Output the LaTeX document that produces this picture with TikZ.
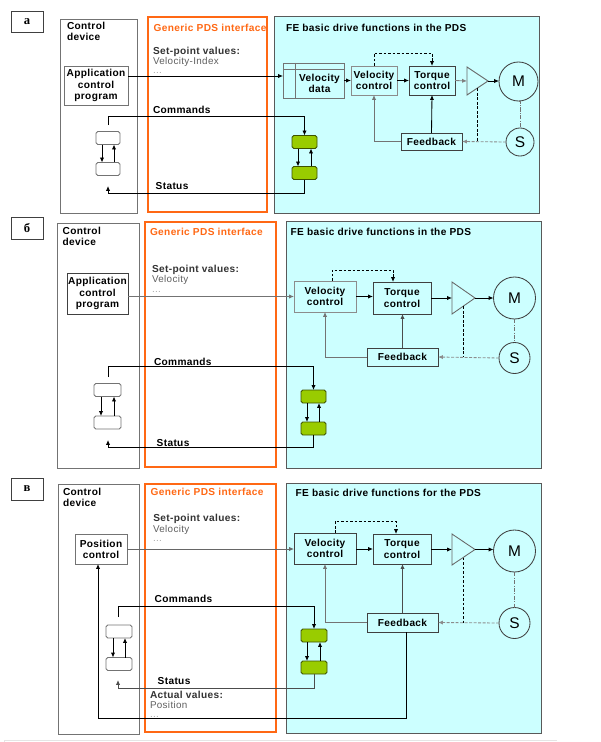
\documentclass[tikz,border=0pt]{standalone}
\usepackage{fontspec}
\setmainfont{Liberation Sans}[LetterSpace=3.5]
\newfontfamily\lblfont{Liberation Serif}
\usetikzlibrary{arrows.meta,calc}

\definecolor{pdsorange}{RGB}{255,104,20}
\definecolor{fecyan}{RGB}{204,255,255}
\definecolor{cmdgreen}{RGB}{153,204,0}
\definecolor{txtgray}{RGB}{95,95,95}

\tikzset{
  every node/.style={inner sep=0pt, outer sep=0pt},
  sz/.style 2 args={minimum width=#1*0.7113pt, minimum height=#2*0.7113pt},
  dia/.style={minimum size=#1*0.7113pt},
  btxt/.style={font=\fontsize{7.2}{8}\selectfont\bfseries},
  gtxt/.style={font=\fontsize{7}{8}\selectfont, text=txtgray},
  numbox/.style={draw=black!75, line width=0.7pt, font=\lblfont\bfseries\fontsize{9}{10}\selectfont},
  block/.style={draw=black!75, line width=0.6pt, btxt, align=center},
  smallbox/.style={draw=black!55, fill=white, rounded corners=1.2pt, line width=0.6pt, sz={#1}{13}},
  greenbox/.style={draw=black!60!cmdgreen, fill=cmdgreen, rounded corners=1.2pt, line width=0.6pt, sz={#1}{13}},
  motor/.style={circle, draw=black!75, line width=0.6pt, font=\fontsize{11}{12}\selectfont},
  amp/.style={draw=black!60, line width=0.6pt},
  cdev/.style={draw=black!55, line width=0.6pt},
  pds/.style={draw=pdsorange, line width=2pt},
  fe/.style={draw=black!65, fill=fecyan, line width=0.6pt},
  arr/.style={-{Latex[length=3.5pt,width=3pt]}, line width=0.6pt},
  dsh/.style={dash pattern=on 2pt off 1.2pt, line width=0.65pt},
  dshdot/.style={black!55, line width=0.6pt, dash pattern=on 3pt off 1pt on 0.6pt off 1pt}
}

\begin{document}
\begin{tikzpicture}[x=0.025cm, y=-0.025cm]
\useasboundingbox (0,0) rectangle (600,742);
\draw[black!10, line width=0.6pt] (4,742) -- (4,740.5) -- (557,740.5);

% panel a
\draw[cdev] (60,19) rectangle (137,213);
\draw[pds] (148,17) rectangle (267,212);
\draw[fe] (274,16) rectangle (539,213);
\node[numbox, sz={32}{21}] (lblA) at (27,21.5) {а};
\node[btxt, anchor=north west, align=left] (cdA) at (67,22.3) {Control\\device};
\node[btxt, anchor=north west, text=pdsorange] (ifA) at (153.7,24) {Generic PDS interface};
\node[btxt, anchor=north west, text=black!80] (spA) at (153,46.7) {Set-point values:};
\node[gtxt, anchor=north west] (spvA) at (153,57) {Velocity-Index};
\node[gtxt, anchor=base west, text=black!35] (spdA) at (153,73) {...};
\node[btxt, anchor=north west] (feA) at (286,24) {FE basic drive functions in the PDS};
\node[btxt, anchor=north west] (cmA) at (153,106) {Commands};
\node[btxt, anchor=north west] (stA) at (155.7,182) {Status};

\node[block, sz={64}{39}, draw=black!55] (appA) at (96,85.5) {Application\\control\\program};
\node[block, sz={61}{35}, draw=black!55] (vdA) at (313.5,80.5) {};
\draw[black!55, line width=0.6pt] ($(vdA.north west)+(0,6)$) -- ($(vdA.north east)+(0,6)$);
\draw[black!55, line width=0.6pt] ($(vdA.north west)+(12,0)$) -- ($(vdA.south west)+(12,0)$);
\node[btxt, align=center] (vdtA) at (319.5,83.5) {Velocity\\data};
\node[block, sz={46}{29}, draw=black!45] (vcA) at (374,80.5) {Velocity\\control};
\node[block, sz={46}{29}] (tcA) at (432,80.5) {Torque\\control};
\draw[amp] (467,67) -- (488,81) -- (467,95) -- cycle;
\coordinate (ampAin) at (467,81);
\coordinate (ampAout) at (488,81);
\coordinate (ampAdn) at (477,88.3);
\node[motor, dia=39] (mA) at (518.5,81.5) {M};
\node[motor, dia=28] (sA) at (520,142) {S};
\node[block, sz={61}{17}] (fbA) at (431.5,141.5) {Feedback};
\node[smallbox=24] (sbA1) at (108,138) {};
\node[smallbox=24] (sbA2) at (108,169) {};
\node[greenbox=25] (gbA1) at (304.5,142) {};
\node[greenbox=25] (gbA2) at (304.5,173) {};
\coordinate (cmdA) at (108,125);
\coordinate (stpA) at (108,186);

\draw[arr] (appA.east |- 0,76) -- (vdA.west |- 0,76);
\draw[arr] (vdA.east) -- (vcA.west);
\draw[arr] (vcA.east) -- (tcA.west);
\draw[arr, black!50] (tcA.east) -- (ampAin);
\draw[arr] (ampAout) -- (mA.west |- ampAout);
\draw[dsh, arr] (vcA.north) -- ++(0,-13) -| (tcA.north);
\draw[arr, black!55] (fbA.west) -| (vcA.south);
\draw[arr] (fbA.north) -- (tcA.south);
\draw[dshdot] (mA.south) -- (mA.south -| sA.north) -- (sA.north);
\draw[dsh, arr, black!45] (sA.west) -- (fbA.east);
\draw[dsh] (ampAdn) -- (ampAdn |- fbA.east);
\draw[arr] ($(sbA1.south)+(-6,0)$) -- ($(sbA2.north)+(-6,0)$);
\draw[arr] ($(sbA2.north)+(6,0)$) -- ($(sbA1.south)+(6,0)$);
\draw[arr] ($(gbA1.south)+(-6.5,0)$) -- ($(gbA2.north)+(-6.5,0)$);
\draw[arr] ($(gbA2.north)+(6.5,0)$) -- ($(gbA1.south)+(6.5,0)$);
\draw[arr] (cmdA) -- ++(0,-9) -| (gbA1.north);
\draw[arr] (gbA2.south) -- ++(0,14) -| (stpA);

% panel b
\draw[cdev] (57,223) rectangle (139,468);
\draw[pds] (145,222) rectangle (276,467);
\draw[fe] (286,221) rectangle (541,468);
\node[numbox, sz={32}{22}] (lblB) at (27,228) {б};
\node[btxt, anchor=north west, align=left] (cdB) at (62.7,227.3) {Control\\device};
\node[btxt, anchor=north west, text=pdsorange] (ifB) at (150,228.3) {Generic PDS interface};
\node[btxt, anchor=north west, text=black!80] (spB) at (152,265) {Set-point values:};
\node[gtxt, anchor=north west] (spvB) at (152,275) {Velocity};
\node[gtxt, anchor=base west, text=black!35] (spdB) at (152,292) {...};
\node[btxt, anchor=north west] (feB) at (290.7,228.3) {FE basic drive functions in the PDS};
\node[btxt, anchor=north west] (cmB) at (154,357.7) {Commands};
\node[btxt, anchor=north west] (stB) at (156.7,439.3) {Status};

\node[block, sz={61}{41}] (appB) at (97.5,293.5) {Application\\control\\program};
\node[block, sz={62}{31}, draw=black!45] (vcB) at (325,296.5) {Velocity\\control};
\node[block, sz={58}{32}] (tcB) at (402,298) {Torque\\control};
\draw[amp] (452,282) -- (475,298) -- (452,314) -- cycle;
\coordinate (ampBin) at (452,298);
\coordinate (ampBout) at (475,298);
\coordinate (ampBdn) at (463,306.3);
\node[motor, dia=42] (mB) at (514.5,298) {M};
\node[motor, dia=31] (sB) at (514.5,358) {S};
\node[block, sz={71}{18}] (fbB) at (402.5,357) {Feedback};
\node[smallbox=27] (sbB1) at (107.5,390) {};
\node[smallbox=27] (sbB2) at (107.5,422.5) {};
\node[greenbox=25] (gbB1) at (313.5,396.5) {};
\node[greenbox=25] (gbB2) at (313.5,428.5) {};
\coordinate (cmdB) at (108,377);
\coordinate (stpB) at (108,440);

\draw[arr, black!55] (appB.east |- vcB.west) -- (vcB.west);
\draw[arr] (vcB.east |- 0,296.5) -- (tcB.west |- 0,296.5);
\draw[arr] (tcB.east |- ampBin) -- (ampBin);
\draw[arr] (ampBout) -- (mB.west);
\draw[dsh, arr] ($(vcB.north)+(7,0)$) -- ++(0,-11) -| ($(tcB.north)+(-9,0)$);
\draw[arr, black!55] (fbB.west) -| (vcB.south);
\draw[arr, black!70] (fbB.north) -- (fbB.north |- tcB.south);
\draw[dshdot] (mB.south) -- (sB.north);
\draw[dsh, arr, black!45] (sB.west) -- (fbB.east);
\draw[dsh] (ampBdn) -- (ampBdn |- fbB.east);
\draw[arr] ($(sbB1.south)+(-6.5,0)$) -- ($(sbB2.north)+(-6.5,0)$);
\draw[arr] ($(sbB2.north)+(6.5,0)$) -- ($(sbB1.south)+(6.5,0)$);
\draw[arr] ($(gbB1.south)+(-6.5,0)$) -- ($(gbB2.north)+(-6.5,0)$);
\draw[arr] ($(gbB2.north)+(5.5,0)$) -- ($(gbB1.south)+(5.5,0)$);
\draw[arr] (cmdB) -- ++(0,-11) -| (gbB1.north);
\draw[arr] (gbB2.south) -- ++(0,12) -| (stpB);

% panel c
\draw[cdev] (58,484) rectangle (139,734);
\draw[pds] (145,484) rectangle (276,732);
\draw[fe] (286,483) rectangle (541,733);
\node[numbox, sz={32}{22}] (lblC) at (27,489) {в};
\node[btxt, anchor=north west, align=left] (cdC) at (63,488.3) {Control\\device};
\node[btxt, anchor=north west, text=pdsorange] (ifC) at (150.7,488.3) {Generic PDS interface};
\node[btxt, anchor=north west, text=black!80] (spC) at (153.3,514.3) {Set-point values:};
\node[gtxt, anchor=north west] (spvC) at (153,525) {Velocity};
\node[gtxt, anchor=base west, text=black!35] (spdC) at (153,541.7) {...};
\node[btxt, anchor=north west] (feC) at (295.7,489) {FE basic drive functions for the PDS};
\node[btxt, anchor=north west] (cmC) at (154.7,595) {Commands};
\node[btxt, anchor=north west] (stC) at (157.7,677.7) {Status};
\node[btxt, anchor=north west, text=black!80] (avC) at (150,691) {Actual values:};
\node[gtxt, anchor=north west] (avpC) at (150,701.7) {Position};
\node[gtxt, anchor=base west, text=black!35] (avdC) at (150,717.7) {...};

\node[block, sz={52}{30}, draw=black!55] (pcC) at (101,549) {Position\\control};
\node[block, sz={62}{31}] (vcC) at (325,548.5) {Velocity\\control};
\node[block, sz={58}{30}] (tcC) at (402,549) {Torque\\control};
\draw[amp] (452,534) -- (475,549.5) -- (452,565) -- cycle;
\coordinate (ampCin) at (452,549.5);
\coordinate (ampCout) at (475,549.5);
\coordinate (ampCdn) at (463,557.6);
\node[motor, dia=42] (mC) at (514.5,551) {M};
\node[motor, dia=31] (sC) at (514.5,623) {S};
\node[block, sz={71}{19}] (fbC) at (402.5,622.5) {Feedback};
\node[smallbox=26] (sbC1) at (119,631.5) {};
\node[smallbox=26] (sbC2) at (119,664) {};
\node[greenbox=26] (gbC1) at (314,635.5) {};
\node[greenbox=26] (gbC2) at (314,667.5) {};
\coordinate (cmdC) at (118,617);
\coordinate (stpC) at (118,680);

\draw[arr, black!60] (pcC.east) -- (pcC.east -| vcC.west);
\draw[arr] (vcC.east |- 0,549) -- (tcC.west |- 0,549);
\draw[arr] (tcC.east |- ampCin) -- (ampCin);
\draw[arr] (ampCout) -- (mC.west |- ampCout);
\draw[dsh, arr] ($(vcC.north)+(10,0)$) -- ++(0,-12) -| ($(tcC.north)+(-6,0)$);
\draw[arr, black!55] (fbC.west) -| (vcC.south);
\draw[arr, black!70] (fbC.north) -- (fbC.north |- tcC.south);
\draw[dshdot] (mC.south) -- (sC.north);
\draw[dsh, arr, black!45] (sC.west) -- (fbC.east);
\draw[dsh] (ampCdn) -- (ampCdn |- fbC.east);
\draw[arr] ($(fbC.south)+(3.5,0)$) -- ++(0,86.5) -| ($(pcC.south)+(-3,0)$);
\draw[arr] ($(sbC1.south)+(-6,0)$) -- ($(sbC2.north)+(-6,0)$);
\draw[arr] ($(sbC2.north)+(6,0)$) -- ($(sbC1.south)+(6,0)$);
\draw[arr] ($(gbC1.south)+(-7,0)$) -- ($(gbC2.north)+(-7,0)$);
\draw[arr] ($(gbC2.north)+(6,0)$) -- ($(gbC1.south)+(6,0)$);
\draw[arr] (cmdC) -- ++(0,-11) -| (gbC1.north);
\draw[arr, black!70] (gbC2.south) -- ++(0,14) -| (stpC);
\end{tikzpicture}
\end{document}
